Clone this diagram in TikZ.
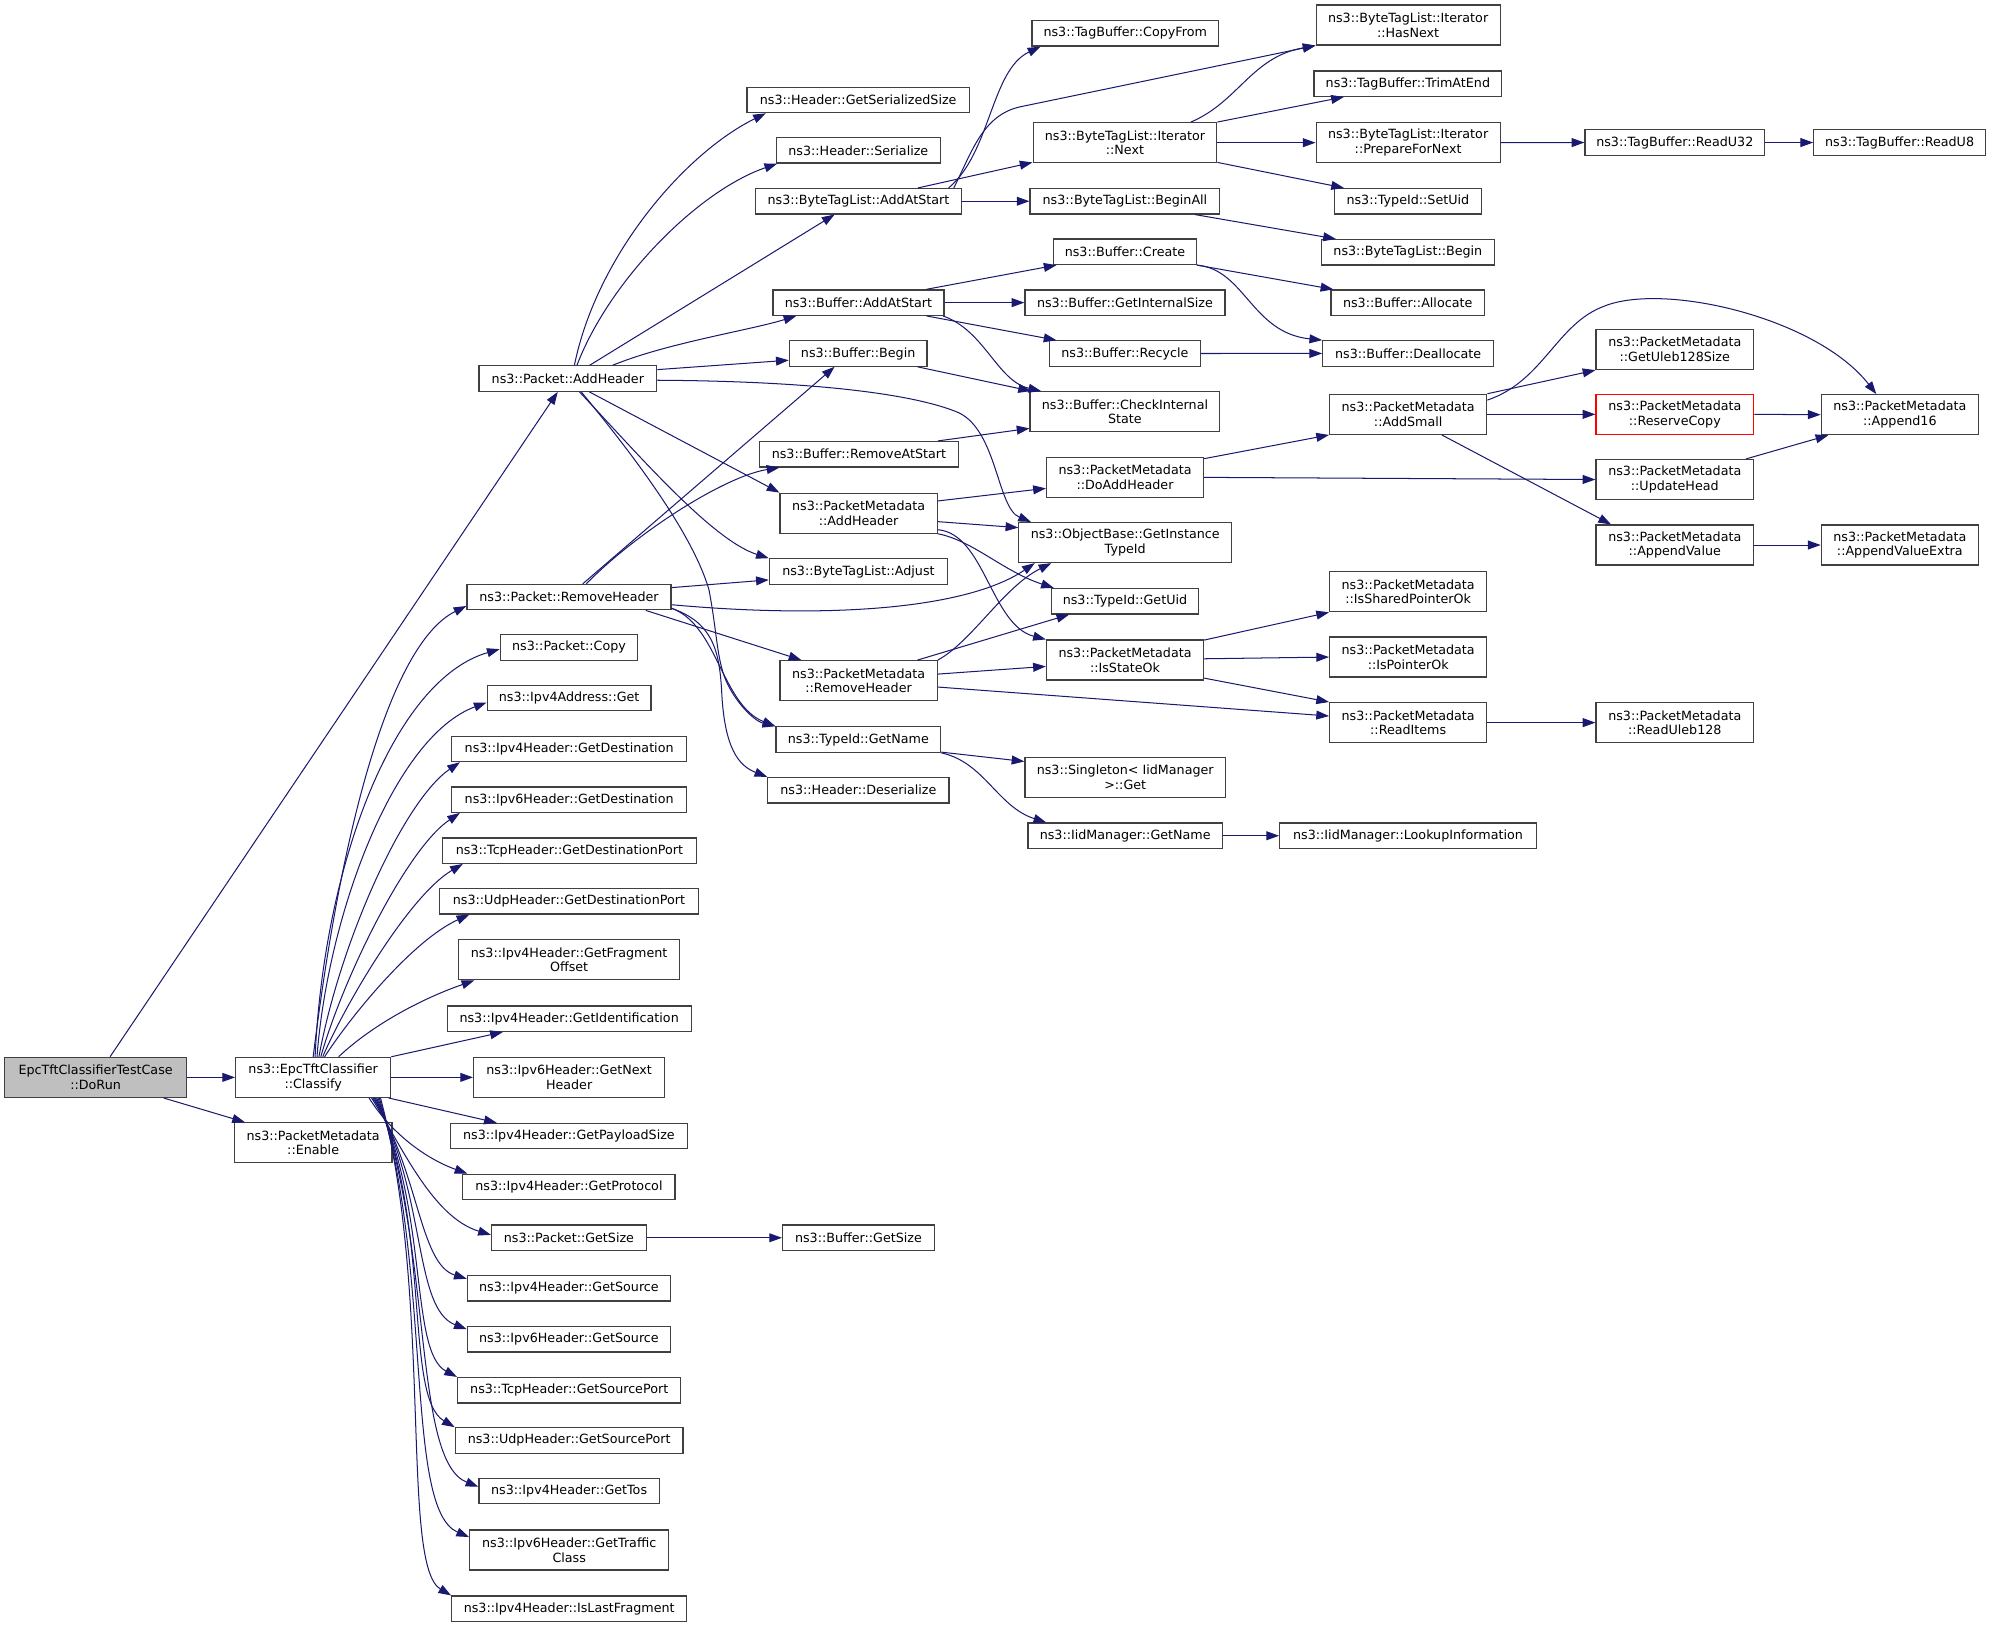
\documentclass[tikz,border=0pt]{standalone}
\usepackage{fontspec}
\setmainfont{DejaVu Sans}
\usetikzlibrary{arrows.meta,calc}
\definecolor{edgeblue}{RGB}{25,25,112}
\definecolor{nodeborder}{RGB}{64,64,64}
\definecolor{grayfill}{RGB}{191,191,191}
\begin{document}
\begin{tikzpicture}[x=1pt,y=-1pt,
  box/.style={draw=nodeborder, line width=0.95pt, fill=white, inner sep=0pt, align=center,
              font=\fontsize{10}{11.5}\selectfont, minimum height=20pt},
  tall/.style={minimum height=31.5pt},
  conn/.style={draw=edgeblue, line width=0.8pt, -{Triangle[length=10pt,width=7pt]}}]
\useasboundingbox[fill=white] (0,0) rectangle (1568,1280.7);

% ---------- column 1
\node[box, tall, minimum width=143.5pt, fill=grayfill] (dorun) at (75.25,848.05) {EpcTftClassifierTestCase\\::DoRun};
\node[box, tall, minimum width=122pt] (classify) at (246.5,848.05) {ns3::EpcTftClassifier\\::Classify};
\node[box, tall, minimum width=124pt] (enable) at (246.5,899.55) {ns3::PacketMetadata\\::Enable};

% ---------- column 2
\node[box, minimum width=140pt] (addheader) at (447,298) {ns3::Packet::AddHeader};
\node[box, minimum width=160.6pt] (removeheader) at (447.9,470) {ns3::Packet::RemoveHeader};
\node[box, minimum width=108.2pt] (copy) at (447.9,509.65) {ns3::Packet::Copy};
\node[box, minimum width=129pt] (ipv4get) at (448,549.45) {ns3::Ipv4Address::Get};
\node[box, minimum width=185pt] (v4dest) at (448,589.5) {ns3::Ipv4Header::GetDestination};
\node[box, minimum width=185pt] (v6dest) at (448,629.4) {ns3::Ipv6Header::GetDestination};
\node[box, minimum width=200pt] (tcpdport) at (448.25,669.55) {ns3::TcpHeader::GetDestinationPort};
\node[box, minimum width=204pt] (udpdport) at (447.85,709.45) {ns3::UdpHeader::GetDestinationPort};
\node[box, tall, minimum width=173.5pt] (fragoff) at (447.95,755.5) {ns3::Ipv4Header::GetFragment\\Offset};
\node[box, minimum width=192pt] (ident) at (448,801.85) {ns3::Ipv4Header::GetIdentification};
\node[box, tall, minimum width=150.4pt] (nexthdr) at (448,848.05) {ns3::Ipv6Header::GetNext\\Header};
\node[box, minimum width=186.7pt] (payload) at (447.85,894.25) {ns3::Ipv4Header::GetPayloadSize};
\node[box, minimum width=167pt] (protocol) at (447.85,934.25) {ns3::Ipv4Header::GetProtocol};
\node[box, minimum width=122pt] (getsize) at (447.85,974.3) {ns3::Packet::GetSize};
\node[box, minimum width=160pt] (v4src) at (447.85,1014.05) {ns3::Ipv4Header::GetSource};
\node[box, minimum width=160pt] (v6src) at (447.85,1054.25) {ns3::Ipv6Header::GetSource};
\node[box, minimum width=175.7pt] (tcpsport) at (448.05,1094.3) {ns3::TcpHeader::GetSourcePort};
\node[box, minimum width=179.2pt] (udpsport) at (448,1133.85) {ns3::UdpHeader::GetSourcePort};
\node[box, minimum width=142pt] (tos) at (448,1173.75) {ns3::Ipv4Header::GetTos};
\node[box, tall, minimum width=156.7pt] (traffic) at (448.05,1220.1) {ns3::Ipv6Header::GetTraffic\\Class};
\node[box, minimum width=185pt] (lastfrag) at (448.05,1266.3) {ns3::Ipv4Header::IsLastFragment};

% ---------- column 3
\node[box, minimum width=175pt] (gss) at (675.5,78.7) {ns3::Header::GetSerializedSize};
\node[box, minimum width=128.9pt] (serialize) at (675.65,118.35) {ns3::Header::Serialize};
\node[box, minimum width=162.6pt] (btladd) at (675.7,158.4) {ns3::ByteTagList::AddAtStart};
\node[box, minimum width=134.6pt] (bufadd) at (675.7,238.2) {ns3::Buffer::AddAtStart};
\node[box, minimum width=108.4pt] (bufbegin) at (675.5,278.25) {ns3::Buffer::Begin};
\node[box, minimum width=156.2pt] (removeatstart) at (676.1,357.55) {ns3::Buffer::RemoveAtStart};
\node[box, tall, minimum width=123.7pt] (pmadd) at (675.85,403.95) {ns3::PacketMetadata\\::AddHeader};
\node[box, minimum width=140.2pt] (adjust) at (675.7,449.85) {ns3::ByteTagList::Adjust};
\node[box, tall, minimum width=123.7pt] (pmremove) at (675.85,535.8) {ns3::PacketMetadata\\::RemoveHeader};
\node[box, minimum width=129.7pt] (getname) at (675.65,582.15) {ns3::TypeId::GetName};
\node[box, minimum width=142.6pt] (deserialize) at (675.7,622) {ns3::Header::Deserialize};
\node[box, minimum width=119.5pt] (bufgetsize) at (675.75,974.3) {ns3::Buffer::GetSize};

% ---------- column 4
\node[box, minimum width=146.6pt] (copyfrom) at (885.7,26.25) {ns3::TagBuffer::CopyFrom};
\node[box, tall, minimum width=144.6pt] (next) at (885.5,112.3) {ns3::ByteTagList::Iterator\\::Next};
\node[box, minimum width=149.4pt] (beginall) at (885.5,158.4) {ns3::ByteTagList::BeginAll};
\node[box, minimum width=112.4pt] (create) at (885.5,198.2) {ns3::Buffer::Create};
\node[box, minimum width=157.4pt] (getinternalsize) at (885.5,238.2) {ns3::Buffer::GetInternalSize};
\node[box, minimum width=118.9pt] (recycle) at (885.5,278.25) {ns3::Buffer::Recycle};
\node[box, tall, minimum width=149.4pt] (checkinternal) at (885.5,324.05) {ns3::Buffer::CheckInternal\\State};
\node[box, tall, minimum width=123.7pt] (doaddheader) at (885.55,375.75) {ns3::PacketMetadata\\::DoAddHeader};
\node[box, tall, minimum width=167.4pt] (objectbase) at (885.7,427.05) {ns3::ObjectBase::GetInstance\\TypeId};
\node[box, minimum width=115.6pt] (getuid) at (885.5,473.25) {ns3::TypeId::GetUid};
\node[box, tall, minimum width=123.7pt] (isstateok) at (885.55,519.55) {ns3::PacketMetadata\\::IsStateOk};
\node[box, tall, minimum width=157.8pt] (singleton) at (885.7,611.8) {ns3::Singleton< IidManager\\>::Get};
\node[box, minimum width=153pt] (iidgetname) at (885.7,657.85) {ns3::IidManager::GetName};

% ---------- column 5
\node[box, tall, minimum width=144.8pt] (hasnext) at (1108.4,19.65) {ns3::ByteTagList::Iterator\\::HasNext};
\node[box, minimum width=147.8pt] (trimatend) at (1108.2,65.85) {ns3::TagBuffer::TrimAtEnd};
\node[box, tall, minimum width=144.8pt] (prepare) at (1108.4,112.3) {ns3::ByteTagList::Iterator\\::PrepareForNext};
\node[box, minimum width=115.6pt] (setuid) at (1108.2,158.4) {ns3::TypeId::SetUid};
\node[box, minimum width=136.4pt] (btlbegin) at (1108.2,198.55) {ns3::ByteTagList::Begin};
\node[box, minimum width=120.9pt] (allocate) at (1108.05,238.25) {ns3::Buffer::Allocate};
\node[box, minimum width=134.4pt] (deallocate) at (1108.4,278.2) {ns3::Buffer::Deallocate};
\node[box, tall, minimum width=123.7pt] (addsmall) at (1108.45,326.15) {ns3::PacketMetadata\\::AddSmall};
\node[box, tall, minimum width=123.7pt] (ispo) at (1108.45,465.75) {ns3::PacketMetadata\\::IsSharedPointerOk};
\node[box, tall, minimum width=123.7pt] (ispointerok) at (1108.45,517.2) {ns3::PacketMetadata\\::IsPointerOk};
\node[box, tall, minimum width=123.7pt] (readitems) at (1108.45,568.8) {ns3::PacketMetadata\\::ReadItems};
\node[box, minimum width=202pt] (lookup) at (1108.3,657.85) {ns3::IidManager::LookupInformation};

% ---------- column 6
\node[box, minimum width=141.4pt] (readu32) at (1318.3,112.2) {ns3::TagBuffer::ReadU32};
\node[box, tall, minimum width=124pt] (uleb128size) at (1318.3,275.15) {ns3::PacketMetadata\\::GetUleb128Size};
\node[box, tall, minimum width=124.1pt, draw=red] (reservecopy) at (1318.35,326.15) {ns3::PacketMetadata\\::ReserveCopy};
\node[box, tall, minimum width=124pt] (updatehead) at (1318.3,377.45) {ns3::PacketMetadata\\::UpdateHead};
\node[box, tall, minimum width=124pt] (appendvalue) at (1318.3,429) {ns3::PacketMetadata\\::AppendValue};
\node[box, tall, minimum width=124pt] (readuleb128) at (1318.3,568.8) {ns3::PacketMetadata\\::ReadUleb128};

% ---------- column 7
\node[box, minimum width=135.1pt] (readu8) at (1495.25,112.2) {ns3::TagBuffer::ReadU8};
\node[box, tall, minimum width=123.7pt] (append16) at (1495.45,326.4) {ns3::PacketMetadata\\::Append16};
\node[box, tall, minimum width=123.7pt] (appendvalueextra) at (1495.45,429) {ns3::PacketMetadata\\::AppendValueExtra};

% ================= edges
% DoRun
\draw[conn] ($(dorun.north west)+(83.6,0)$) -- ($(addheader.south west)+(62.5,0)$);
\draw[conn] (dorun.east) -- (classify.west);
\draw[conn] ($(dorun.south west)+(125.8,0)$) -- ($(enable.north west)+(8.8,0)$);

% Classify, upper fan
\draw[conn] ($(classify.north west)+(61.5,0)$) .. controls (270,640) and (310,505) .. ($(removeheader.west)+(0,7)$);
\draw[conn] ($(classify.north west)+(63,0)$) .. controls (255,680) and (310,535) .. ($(copy.west)+(0,1.3)$);
\draw[conn] ($(classify.north west)+(64.5,0)$) .. controls (258,720) and (310,580) .. ($(ipv4get.west)+(0,3.5)$);
\draw[conn] ($(classify.north west)+(66,0)$) .. controls (268,740) and (318,630) .. ($(v4dest.south west)+(7,0)$);
\draw[conn] ($(classify.north west)+(67.5,0)$) .. controls (270,770) and (320,668) .. ($(v6dest.south west)+(7,0)$);
\draw[conn] ($(classify.north west)+(69,0)$) .. controls (272,790) and (322,705) .. ($(tcpdport.south west)+(16.5,0)$);
\draw[conn] ($(classify.north west)+(70.5,0)$) .. controls (276,800) and (325,740) .. ($(udpdport.south west)+(24,0)$);
\draw[conn] ($(classify.north west)+(81.5,0)$) .. controls (295,805) and (335,785) .. ($(fragoff.south west)+(12.6,0)$);
\draw[conn] (classify.north east) -- ($(ident.south west)+(44.3,0)$);
\draw[conn] (classify.east) -- (nexthdr.west);
% Classify, lower fan
\draw[conn] ($(classify.south east)+(-2,0)$) -- ($(payload.north west)+(37,0)$);
\draw[conn] ($(classify.south west)+(105.5,0)$) .. controls (308,892) and (335,912) .. ($(protocol.north west)+(4,0)$);
\draw[conn] ($(classify.south west)+(107.5,0)$) .. controls (315,900) and (340,958) .. ($(getsize.west)+(0,-2.3)$);
\draw[conn] ($(classify.south west)+(108.5,0)$) .. controls (330,922) and (330,995) .. ($(v4src.north west)+(0,3)$);
\draw[conn] ($(classify.south west)+(109.5,0)$) .. controls (336,938) and (325,1030) .. ($(v6src.north west)+(0,2.5)$);
\draw[conn] ($(classify.south west)+(110.5,0)$) .. controls (338,952) and (322,1064) .. (tcpsport.north west);
\draw[conn] ($(classify.south west)+(111.5,0)$) .. controls (340,968) and (318,1100) .. (udpsport.north west);
\draw[conn] ($(classify.south west)+(112.5,0)$) .. controls (341,987) and (325,1150) .. ($(tos.north west)+(0,7)$);
\draw[conn] ($(classify.south west)+(113.5,0)$) .. controls (341,1003) and (318,1188) .. ($(traffic.north west)+(0,6)$);
\draw[conn] ($(classify.south west)+(114.5,0)$) .. controls (341,1020) and (315,1232) .. (lastfrag.north west);

% Packet::AddHeader
\draw[conn] ($(addheader.north west)+(75.6,0)$) .. controls (470,200) and (540,120) .. ($(gss.south west)+(15.3,0)$);
\draw[conn] ($(addheader.north west)+(77.6,0)$) .. controls (480,220) and (550,150) .. ($(serialize.south west)+(1,0)$);
\draw[conn] ($(addheader.north west)+(87.6,0)$) -- ($(btladd.south west)+(63,0)$);
\draw[conn] ($(addheader.north west)+(105.7,0)$) .. controls (525,270) and (590,260) .. ($(bufadd.south west)+(18.9,0)$);
\draw[conn] ($(addheader.north east)+(0,3.4)$) -- ($(bufbegin.west)+(0,5.3)$);
\draw[conn] ($(addheader.east)+(0,1.3)$) .. controls (640,300) and (720,310) .. (755,325) .. controls (785,340) and (785,400) .. ($(objectbase.north west)+(10,0)$);
\draw[conn] ($(addheader.south west)+(87.4,0)$) -- (pmadd.north west);
\draw[conn] ($(addheader.south west)+(79.6,0)$) .. controls (500,355) and (560,425) .. (adjust.north west);
\draw[conn] ($(addheader.south west)+(81,0)$) .. controls (500,360) and (545,420) .. (558,464) .. controls (564,495) and (564,515) .. (570,532) .. controls (576,549) and (592,567) .. (getname.north west);

% Packet::RemoveHeader
\draw[conn] ($(removeheader.north west)+(91.6,0)$) -- ($(bufbegin.south west)+(36.1,0)$);
\draw[conn] ($(removeheader.north west)+(94.4,0)$) .. controls (500,420) and (570,375) .. ($(removeatstart.south west)+(16,0)$);
\draw[conn] ($(removeheader.north east)+(0,3)$) -- ($(adjust.west)+(0,6.6)$);
\draw[conn] ($(removeheader.east)+(0,6)$) .. controls (650,487) and (760,480) .. ($(objectbase.south west)+(13,0)$);
\draw[conn] ($(removeheader.south west)+(141.2,0)$) -- ($(pmremove.north west)+(17.3,0)$);
\draw[conn] ($(removeheader.east)+(0,8.8)$) .. controls (565,492) and (568,555) .. (getname.north west);
\draw[conn] ($(removeheader.east)+(0,8.8)$) .. controls (560,490) and (566,510) .. (568,543) .. controls (570,590) and (582,603) .. (deserialize.north west);

% ByteTagList::AddAtStart
\draw[conn] ($(btladd.north west)+(152.8,0)$) .. controls (780,120) and (780,55) .. ($(copyfrom.south west)+(7,0)$);
\draw[conn] ($(btladd.north west)+(156.8,0)$) .. controls (765,120) and (773.4,90.3) .. (803.4,84) -- (hasnext.south west);
\draw[conn] ($(btladd.north west)+(128.6,0)$) -- ($(next.south west)+(0,-0.7)$);
\draw[conn] (btladd.east) -- (beginall.west);

% Iterator::Next
\draw[conn] ($(next.north west)+(124.7,0)$) .. controls (975,80) and (985,45) .. (hasnext.south west);
\draw[conn] (next.north east) -- ($(trimatend.south west)+(24,0)$);
\draw[conn] (next.east) -- (prepare.west);
\draw[conn] ($(next.south east)+(0,-0.7)$) -- ($(setuid.north west)+(8,0)$);
\draw[conn] ($(beginall.south east)+(-20.2,0)$) -- ($(btlbegin.north west)+(12,0)$);
\draw[conn] (prepare.east) -- (readu32.west);
\draw[conn] (readu32.east) -- (readu8.west);

% Buffer
\draw[conn] ($(bufadd.north west)+(121.3,0)$) -- ($(create.south west)+(2.8,0)$);
\draw[conn] (bufadd.east) -- (getinternalsize.west);
\draw[conn] ($(bufadd.south west)+(121.3,0)$) -- ($(recycle.north west)+(6,0)$);
\draw[conn] ($(bufadd.south east)+(-1.3,0)$) .. controls (775,260) and (785,300) .. ($(checkinternal.north west)+(9.2,0)$);
\draw[conn] ($(bufbegin.south east)+(-8,0)$) -- ($(checkinternal.north west)+(1.2,0)$);
\draw[conn] ($(removeatstart.north east)+(-16.5,0)$) -- ($(checkinternal.west)+(0,13.15)$);
\draw[conn] (create.south east) -- ($(allocate.north west)+(2.4,0)$);
\draw[conn] (create.south east) .. controls (980,212) and (985,262) .. (deallocate.north west);
\draw[conn] (recycle.east) -- (deallocate.west);

% PacketMetadata::AddHeader
\draw[conn] ($(pmadd.north east)+(0,6.6)$) -- ($(doaddheader.west)+(0,8.65)$);
\draw[conn] ($(pmadd.east)+(0,6.65)$) -- ($(objectbase.north west)+(0,4.5)$);
\draw[conn] (pmadd.south east) .. controls (765,425) and (790,450) .. ($(getuid.north west)+(2.3,0)$);
\draw[conn] ($(pmadd.east)+(0,13)$) .. controls (775,420) and (780,492) .. (isstateok.north west);

% PacketMetadata::RemoveHeader
\draw[conn] ($(pmremove.north east)+(-16,0)$) -- ($(getuid.south west)+(14.4,0)$);
\draw[conn] (pmremove.north east) .. controls (765,505) and (790,462) .. ($(objectbase.south west)+(26,0)$);
\draw[conn] ($(pmremove.east)+(0,-5.2)$) -- ($(isstateok.west)+(0,5)$);
\draw[conn] ($(pmremove.east)+(0,5)$) -- ($(readitems.west)+(0,-5.2)$);

% DoAddHeader / AddSmall
\draw[conn] ($(doaddheader.north east)+(0,1.5)$) -- (addsmall.south west);
\draw[conn] (doaddheader.east) -- (updatehead.west);
\draw[conn] (addsmall.north east) -- (uleb128size.south west);
\draw[conn] (addsmall.east) -- (reservecopy.west);
\draw[conn] ($(addsmall.north east)+(0,5)$) .. controls (1215,300) and (1225,255) .. (1262.7,241) .. controls (1310,222) and (1430,250) .. ($(append16.north west)+(43.8,0)$);
\draw[conn] ($(addsmall.south west)+(88.8,0)$) -- ($(appendvalue.north west)+(12.3,0)$);
\draw[conn] (reservecopy.east) -- (append16.west);
\draw[conn] ($(updatehead.north east)+(-6.4,0)$) -- ($(append16.south west)+(6,0)$);
\draw[conn] (appendvalue.east) -- (appendvalueextra.west);

% IsStateOk
\draw[conn] ($(isstateok.north east)+(0,0.5)$) -- (ispo.south west);
\draw[conn] ($(isstateok.east)+(0,-1)$) -- (ispointerok.west);
\draw[conn] ($(isstateok.south east)+(0,-2)$) -- (readitems.north west);
\draw[conn] (readitems.east) -- (readuleb128.west);

% TypeId::GetName
\draw[conn] ($(getname.south east)+(0,-0.6)$) -- ($(singleton.north west)+(0,3.8)$);
\draw[conn] (getname.south east) .. controls (775,600) and (785,635) .. ($(iidgetname.north west)+(14.8,0)$);
\draw[conn] (iidgetname.east) -- (lookup.west);
\draw[conn] (getsize.east) -- (bufgetsize.west);
\end{tikzpicture}
\end{document}
